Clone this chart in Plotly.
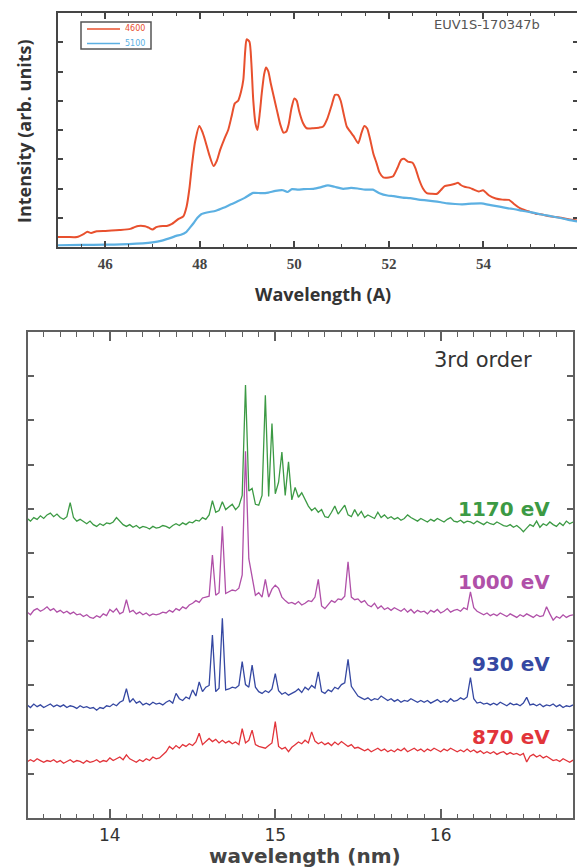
import numpy as np
import plotly.graph_objects as go

# ---------------- top panel data (wavelength in Angstrom) ----------------
red4600_x = [45.00, 45.20, 45.40, 45.55, 45.62, 45.70, 45.82, 46.00, 46.13, 46.30,
             46.53, 46.62, 46.70, 46.84, 46.92, 47.00, 47.08, 47.16, 47.30, 47.40,
             47.55, 47.65, 47.72, 47.78, 47.83, 47.90, 47.99, 48.05, 48.11, 48.20,
             48.29, 48.36, 48.43, 48.52, 48.60, 48.67, 48.74, 48.81, 48.87, 48.92,
             48.96, 48.99, 49.05, 49.09, 49.13, 49.18, 49.22, 49.27, 49.31, 49.36,
             49.40, 49.45, 49.50, 49.57, 49.63, 49.70, 49.77, 49.83, 49.88, 49.94,
             50.00, 50.05, 50.10, 50.18, 50.26, 50.40, 50.52, 50.61, 50.70, 50.79,
             50.86, 50.92, 50.98, 51.05, 51.11, 51.18, 51.25, 51.35, 51.42, 51.48,
             51.54, 51.60, 51.67, 51.74, 51.80, 51.88, 52.00, 52.09, 52.18, 52.26,
             52.32, 52.40, 52.50, 52.56, 52.64, 52.72, 52.80, 52.90, 53.02, 53.10,
             53.18, 53.30, 53.40, 53.46, 53.52, 53.60, 53.71, 53.80, 53.90, 53.99,
             54.04, 54.12, 54.26, 54.40, 54.54, 54.64, 54.74, 54.82, 54.95, 55.10,
             55.21, 55.40, 55.60, 55.80, 56.00]
red4600_y = [0.34, 0.34, 0.34, 0.45, 0.52, 0.48, 0.54, 0.55, 0.56, 0.58,
             0.62, 0.68, 0.72, 0.71, 0.66, 0.60, 0.68, 0.71, 0.72, 0.78,
             0.96, 1.05, 1.38, 2.00, 2.75, 3.60, 4.14, 3.95, 3.66, 3.15,
             2.77, 2.95, 3.32, 3.70, 4.00, 4.45, 4.91, 5.00, 5.30, 5.71,
             6.70, 7.10, 7.02, 6.30, 5.03, 4.20, 4.00, 4.60, 5.25, 5.90,
             6.14, 6.00, 5.60, 5.10, 4.68, 4.20, 3.91, 3.95, 4.20, 4.75,
             5.08, 5.00, 4.65, 4.25, 4.06, 4.06, 4.08, 4.12, 4.40, 4.85,
             5.20, 5.20, 5.00, 4.50, 4.11, 3.95, 3.80, 3.55, 3.90, 4.14,
             4.05, 3.70, 3.20, 2.86, 2.55, 2.38, 2.38, 2.42, 2.70, 2.98,
             3.02, 2.92, 2.88, 2.70, 2.30, 2.00, 1.84, 1.82, 1.82, 1.95,
             2.08, 2.12, 2.16, 2.20, 2.12, 2.06, 2.02, 1.96, 1.90, 1.94,
             1.88, 1.76, 1.66, 1.62, 1.61, 1.48, 1.36, 1.29, 1.22, 1.14,
             1.12, 1.05, 1.01, 0.95, 0.90]

blue5100_x = [45.00, 45.50, 46.00, 46.50, 47.00, 47.20, 47.40, 47.50, 47.60, 47.71,
              47.80, 47.87, 47.95, 48.03, 48.15, 48.34, 48.50, 48.66, 48.80, 48.95,
              49.13, 49.30, 49.45, 49.60, 49.76, 49.85, 49.95, 50.08, 50.20, 50.40,
              50.55, 50.71, 50.85, 51.03, 51.20, 51.34, 51.50, 51.66, 51.80, 51.97,
              52.10, 52.29, 52.45, 52.60, 52.75, 52.92, 53.10, 53.24, 53.40, 53.55,
              53.75, 53.95, 54.15, 54.34, 54.50, 54.66, 54.82, 54.97, 55.20, 55.37,
              55.60, 55.80, 56.00]
blue5100_y = [0.06, 0.07, 0.08, 0.10, 0.16, 0.22, 0.32, 0.38, 0.42, 0.51,
              0.68, 0.82, 1.00, 1.12, 1.18, 1.24, 1.34, 1.46, 1.56, 1.68,
              1.85, 1.84, 1.86, 1.92, 1.94, 1.88, 1.98, 1.96, 1.98, 1.99,
              2.04, 2.11, 2.06, 1.99, 2.02, 2.00, 1.96, 1.96, 1.84, 1.76,
              1.74, 1.69, 1.67, 1.63, 1.60, 1.57, 1.53, 1.49, 1.47, 1.46,
              1.48, 1.49, 1.43, 1.38, 1.33, 1.29, 1.24, 1.20, 1.12, 1.07,
              1.00, 0.93, 0.87]

top_series_names = ["4600", "5100"]
top_colors = ["#e8502e", "#5cb0e2"]
top_tick_vals = [46, 48, 50, 52, 54, 56]

# ---------------- bottom panel data (wavelength in nm, offset spectra) ----------------
wl_nm = np.round(np.arange(13.50, 16.801, 0.02), 2)

spec_1170 = [
    6.78, 6.72, 6.80, 6.76, 6.84, 6.78, 6.86, 6.90, 6.82, 6.88,
    6.80, 6.76, 6.82, 7.14, 6.80, 6.72, 6.76, 6.70, 6.66, 6.72,
    6.64, 6.60, 6.66, 6.62, 6.68, 6.66, 6.70, 6.80, 6.72, 6.64,
    6.60, 6.64, 6.58, 6.62, 6.56, 6.60, 6.58, 6.54, 6.60, 6.56,
    6.58, 6.62, 6.60, 6.56, 6.62, 6.66, 6.62, 6.68, 6.64, 6.70,
    6.68, 6.74, 6.72, 6.80, 6.76, 6.86, 7.18, 6.92, 6.96, 7.16,
    6.98, 7.04, 7.10, 6.98, 7.06, 7.30, 9.80, 7.40, 7.46, 7.10,
    7.08, 7.30, 9.57, 7.28, 8.93, 7.34, 7.60, 8.28, 7.30, 8.06,
    7.20, 7.48, 7.26, 7.36, 7.20, 7.06, 6.96, 7.02, 6.92, 6.98,
    6.82, 6.80, 6.92, 7.06, 6.88, 6.98, 7.08, 6.86, 6.82, 6.98,
    6.84, 6.94, 6.80, 6.86, 6.82, 6.78, 6.92, 6.80, 6.86, 6.78,
    6.82, 6.76, 6.80, 6.74, 6.78, 6.86, 6.80, 6.76, 6.72, 6.78,
    6.74, 6.70, 6.76, 6.72, 6.78, 6.74, 6.70, 6.76, 6.80, 6.72,
    6.70, 6.74, 6.68, 6.72, 6.70, 6.66, 6.72, 6.68, 6.64, 6.70,
    6.66, 6.64, 6.70, 6.66, 6.62, 6.60, 6.64, 6.58, 6.62, 6.56,
    6.48, 6.56, 6.64, 6.60, 6.72, 6.58, 6.66, 6.62, 6.70, 6.64,
    6.60, 6.68, 6.62, 6.72, 6.66, 6.70]

spec_1000 = [
    4.66, 4.60, 4.70, 4.74, 4.68, 4.72, 4.78, 4.70, 4.74, 4.66,
    4.70, 4.64, 4.68, 4.62, 4.66, 4.60, 4.62, 4.56, 4.60, 4.54,
    4.52, 4.58, 4.54, 4.62, 4.58, 4.72, 4.66, 4.74, 4.62, 4.66,
    4.94, 4.66, 4.70, 4.62, 4.66, 4.60, 4.64, 4.58, 4.62, 4.60,
    4.62, 4.66, 4.64, 4.70, 4.66, 4.74, 4.70, 4.78, 4.74, 4.82,
    4.86, 4.92, 4.88, 4.98, 5.00, 5.02, 5.95, 5.04, 5.10, 6.60,
    5.08, 5.12, 5.16, 5.14, 5.20, 5.50, 8.30, 5.87, 5.46, 5.04,
    5.10, 5.00, 5.40, 5.00, 5.18, 5.27, 5.20, 5.00, 4.92, 4.86,
    4.88, 4.84, 4.90, 4.82, 4.86, 4.92, 4.90, 5.00, 5.40, 4.80,
    4.74, 4.84, 4.92, 4.88, 4.96, 4.94, 5.02, 5.80, 5.00, 4.94,
    4.96, 4.88, 4.92, 4.82, 4.78, 4.86, 4.74, 4.80, 4.72, 4.76,
    4.70, 4.76, 4.72, 4.68, 4.74, 4.66, 4.72, 4.64, 4.70, 4.66,
    4.68, 4.62, 4.70, 4.66, 4.72, 4.64, 4.68, 4.74, 4.66, 4.70,
    4.72, 4.68, 4.76, 4.72, 5.12, 4.76, 4.68, 4.64, 4.60, 4.64,
    4.58, 4.62, 4.58, 4.64, 4.60, 4.56, 4.62, 4.58, 4.54, 4.60,
    4.56, 4.62, 4.58, 4.54, 4.60, 4.56, 4.58, 4.78, 4.62, 4.48,
    4.56, 4.52, 4.60, 4.54, 4.58, 4.60]

spec_930 = [
    2.56, 2.50, 2.58, 2.52, 2.56, 2.50, 2.54, 2.58, 2.52, 2.56,
    2.52, 2.56, 2.50, 2.54, 2.52, 2.48, 2.54, 2.50, 2.52, 2.48,
    2.50, 2.44, 2.50, 2.48, 2.54, 2.52, 2.58, 2.54, 2.62, 2.66,
    2.93, 2.62, 2.70, 2.60, 2.64, 2.56, 2.60, 2.56, 2.62, 2.58,
    2.60, 2.56, 2.62, 2.66, 2.60, 2.82, 2.70, 2.66, 2.74, 2.70,
    2.90, 2.76, 3.08, 2.86, 2.96, 3.00, 4.14, 2.86, 2.94, 4.52,
    2.90, 2.92, 2.96, 2.94, 3.00, 3.54, 3.02, 2.96, 3.46, 2.96,
    2.86, 2.82, 2.88, 2.84, 2.92, 3.27, 2.88, 2.80, 2.84, 2.78,
    2.82, 2.86, 2.92, 2.84, 2.96, 2.90, 3.00, 2.94, 3.31, 2.86,
    2.82, 2.90, 2.86, 2.96, 2.92, 3.02, 3.06, 3.59, 2.98, 2.86,
    2.76, 2.72, 2.68, 2.72, 2.66, 2.70, 2.68, 2.76, 2.70, 2.66,
    2.70, 2.64, 2.68, 2.62, 2.66, 2.64, 2.70, 2.66, 2.62, 2.66,
    2.62, 2.66, 2.60, 2.64, 2.68, 2.62, 2.66, 2.62, 2.70, 2.64,
    2.66, 2.72, 2.68, 2.74, 3.18, 2.70, 2.60, 2.62, 2.58, 2.60,
    2.56, 2.60, 2.56, 2.62, 2.58, 2.54, 2.60, 2.56, 2.58, 2.54,
    2.60, 2.73, 2.56, 2.58, 2.54, 2.58, 2.52, 2.56, 2.54, 2.58,
    2.52, 2.56, 2.50, 2.54, 2.52, 2.56]

spec_870 = [
    1.27, 1.32, 1.28, 1.34, 1.30, 1.26, 1.30, 1.28, 1.32, 1.26,
    1.30, 1.24, 1.28, 1.32, 1.26, 1.30, 1.28, 1.24, 1.30, 1.26,
    1.28, 1.32, 1.26, 1.30, 1.28, 1.36, 1.30, 1.34, 1.38, 1.32,
    1.43, 1.34, 1.30, 1.26, 1.32, 1.28, 1.34, 1.30, 1.38, 1.34,
    1.36, 1.42, 1.50, 1.62, 1.56, 1.64, 1.58, 1.66, 1.62, 1.68,
    1.64, 1.72, 1.92, 1.66, 1.74, 1.80, 1.73, 1.78, 1.70, 1.76,
    1.70, 1.74, 1.68, 1.72, 1.66, 2.02, 1.70, 1.76, 1.99, 1.66,
    1.62, 1.60, 1.58, 1.64, 1.70, 2.18, 1.62, 1.56, 1.60, 1.50,
    1.60, 1.66, 1.72, 1.68, 1.76, 1.70, 1.95, 1.74, 1.68, 1.72,
    1.66, 1.70, 1.64, 1.72, 1.66, 1.73, 1.68, 1.62, 1.66, 1.58,
    1.60, 1.56, 1.52, 1.56, 1.50, 1.54, 1.58, 1.52, 1.56, 1.50,
    1.54, 1.50, 1.56, 1.52, 1.58, 1.50, 1.54, 1.58, 1.52, 1.56,
    1.50, 1.56, 1.52, 1.58, 1.54, 1.50, 1.56, 1.52, 1.58, 1.54,
    1.50, 1.54, 1.50, 1.56, 1.50, 1.54, 1.48, 1.52, 1.46, 1.50,
    1.46, 1.50, 1.44, 1.48, 1.50, 1.44, 1.48, 1.44, 1.46, 1.42,
    1.46, 1.27, 1.40, 1.44, 1.38, 1.42, 1.36, 1.40, 1.34, 1.30,
    1.32, 1.28, 1.34, 1.30, 1.26, 1.31]

energy_labels = ["1170 eV", "1000 eV", "930 eV", "870 eV"]
label_y = [6.99, 5.34, 3.48, 1.83]
bottom_tick_vals = [14, 15, 16]

bottom_series = [spec_1170, spec_1000, spec_930, spec_870]
bottom_colors = ["#3c9a44", "#b050a8", "#3548a2", "#e2343a"]

for s in bottom_series:
    assert len(s) == len(wl_nm)

# The page body has an 8px default margin; size the figure so it fills the window.
W, H = 577, 859
OFF = 8


def px(xp):
    return (xp - OFF) / W


def py(yp):
    return 1 - (yp - OFF) / H


fig = go.Figure()

fig.add_trace(go.Scatter(x=red4600_x, y=red4600_y, mode="lines", name=top_series_names[0],
                         showlegend=False,
                         line=dict(color=top_colors[0], width=2, shape="spline", smoothing=0.6),
                         xaxis="x", yaxis="y"))
fig.add_trace(go.Scatter(x=blue5100_x, y=blue5100_y, mode="lines", name=top_series_names[1],
                         showlegend=False,
                         line=dict(color=top_colors[1], width=2.2, shape="spline", smoothing=0.6),
                         xaxis="x", yaxis="y"))

for s, c, n in zip(bottom_series, bottom_colors, energy_labels):
    fig.add_trace(go.Scatter(x=wl_nm, y=s, mode="lines", showlegend=False, name=n,
                             line=dict(color=c, width=1.3), xaxis="x2", yaxis="y2"))

axc_top = "#454545"
axc_bot = "#606060"

# legend box (drawn as a small key)
shapes = [
    dict(type="rect", xref="paper", yref="paper", x0=px(81), x1=px(151), y0=py(49), y1=py(22),
         line=dict(color="#555555", width=1.5), fillcolor="white", layer="above"),
    dict(type="line", xref="paper", yref="paper", x0=px(87), x1=px(120), y0=py(29), y1=py(29),
         line=dict(color=top_colors[0], width=1.3), layer="above"),
    dict(type="line", xref="paper", yref="paper", x0=px(87), x1=px(120), y0=py(43.5), y1=py(43.5),
         line=dict(color=top_colors[1], width=1.3), layer="above"),
]

annotations = [
    dict(text=top_series_names[0], x=px(123), y=py(29), xref="paper", yref="paper",
         xanchor="left", yanchor="middle",
         showarrow=False, font=dict(family="DejaVu Sans", size=8, color=top_colors[0])),
    dict(text=top_series_names[1], x=px(123), y=py(43.5), xref="paper", yref="paper",
         xanchor="left", yanchor="middle",
         showarrow=False, font=dict(family="DejaVu Sans", size=8, color=top_colors[1])),
    dict(text="<b>Intensity (arb. units)</b>", x=px(24), y=py(131), xref="paper", yref="paper",
         xanchor="center", yanchor="middle",
         textangle=-90, showarrow=False, font=dict(family="Open Sans", size=18, color="#333333")),
    dict(text="<b>Wavelength (A)</b>", x=px(323), y=py(294), xref="paper", yref="paper",
         xanchor="center", yanchor="middle",
         showarrow=False, font=dict(family="Open Sans", size=18, color="#333333")),
    dict(text="EUV1S-170347b", x=54.08, y=7.59, xref="x", yref="y", showarrow=False,
         xanchor="center", yanchor="middle",
         font=dict(family="DejaVu Sans", size=13, color="#555555")),
    dict(text="3rd order", x=16.254, y=10.36, xref="x2", yref="y2", showarrow=False,
         xanchor="center", yanchor="middle",
         font=dict(family="DejaVu Sans", size=21, color="#333333")),
    dict(text="<b>wavelength (nm)</b>", x=px(305), y=py(856), xref="paper", yref="paper",
         xanchor="center", yanchor="middle",
         showarrow=False, font=dict(family="DejaVu Sans", size=20, color="#444444")),
]
for lab, yy, c in zip(energy_labels, label_y, bottom_colors):
    annotations.append(dict(text="<b>" + lab + "</b>", x=16.675, y=yy, xref="x2", yref="y2",
                            xanchor="right", yanchor="middle", showarrow=False,
                            font=dict(family="DejaVu Sans", size=20, color=c)))

fig.update_layout(
    width=W, height=H,
    margin=dict(l=0, r=0, t=0, b=0),
    paper_bgcolor="white", plot_bgcolor="white",
    showlegend=False,
    xaxis=dict(domain=[px(58), px(578)], range=[45, 56], anchor="y",
               tickmode="array", tickvals=top_tick_vals, ticks="inside", ticklen=6, tickwidth=1.5,
               tickcolor=axc_top, mirror="allticks", showline=True, linecolor=axc_top, linewidth=1.8,
               showgrid=False, zeroline=False, ticklabelstandoff=2,
               tickfont=dict(family="Liberation Serif", size=15, color="#444444", weight="bold"),
               minor=dict(dtick=0.5, tick0=45, ticks="inside", ticklen=3, tickwidth=1.2,
                          tickcolor=axc_top, showgrid=False)),
    yaxis=dict(domain=[py(247), py(13)], range=[0, 8], anchor="x",
               dtick=1, tick0=0, ticks="inside", ticklen=5, tickwidth=1.5, tickcolor=axc_top,
               showticklabels=False, mirror="allticks", showline=True, linecolor=axc_top,
               linewidth=1.8, showgrid=False, zeroline=False),
    xaxis2=dict(domain=[px(28), px(573)], range=[13.505, 16.80], anchor="y2",
                tickmode="array", tickvals=bottom_tick_vals, ticks="inside", ticklen=9, tickwidth=1.5,
                tickcolor=axc_bot, mirror="allticks", showline=True, linecolor=axc_bot, linewidth=2,
                showgrid=False, zeroline=False, ticklabelstandoff=1,
                tickfont=dict(family="DejaVu Sans", size=17, color="#333333"),
                minor=dict(dtick=0.1, tick0=13.5, ticks="inside", ticklen=4.5, tickwidth=1.2,
                           tickcolor=axc_bot, showgrid=False)),
    yaxis2=dict(domain=[py(818), py(332)], range=[0, 11], anchor="x2",
                dtick=1, tick0=0, ticks="inside", ticklen=6, tickwidth=1.5, tickcolor=axc_bot,
                showticklabels=False, mirror="allticks", showline=True, linecolor=axc_bot,
                linewidth=2, showgrid=False, zeroline=False),
    shapes=shapes,
    annotations=annotations,
)

fig.write_html("out.html")
